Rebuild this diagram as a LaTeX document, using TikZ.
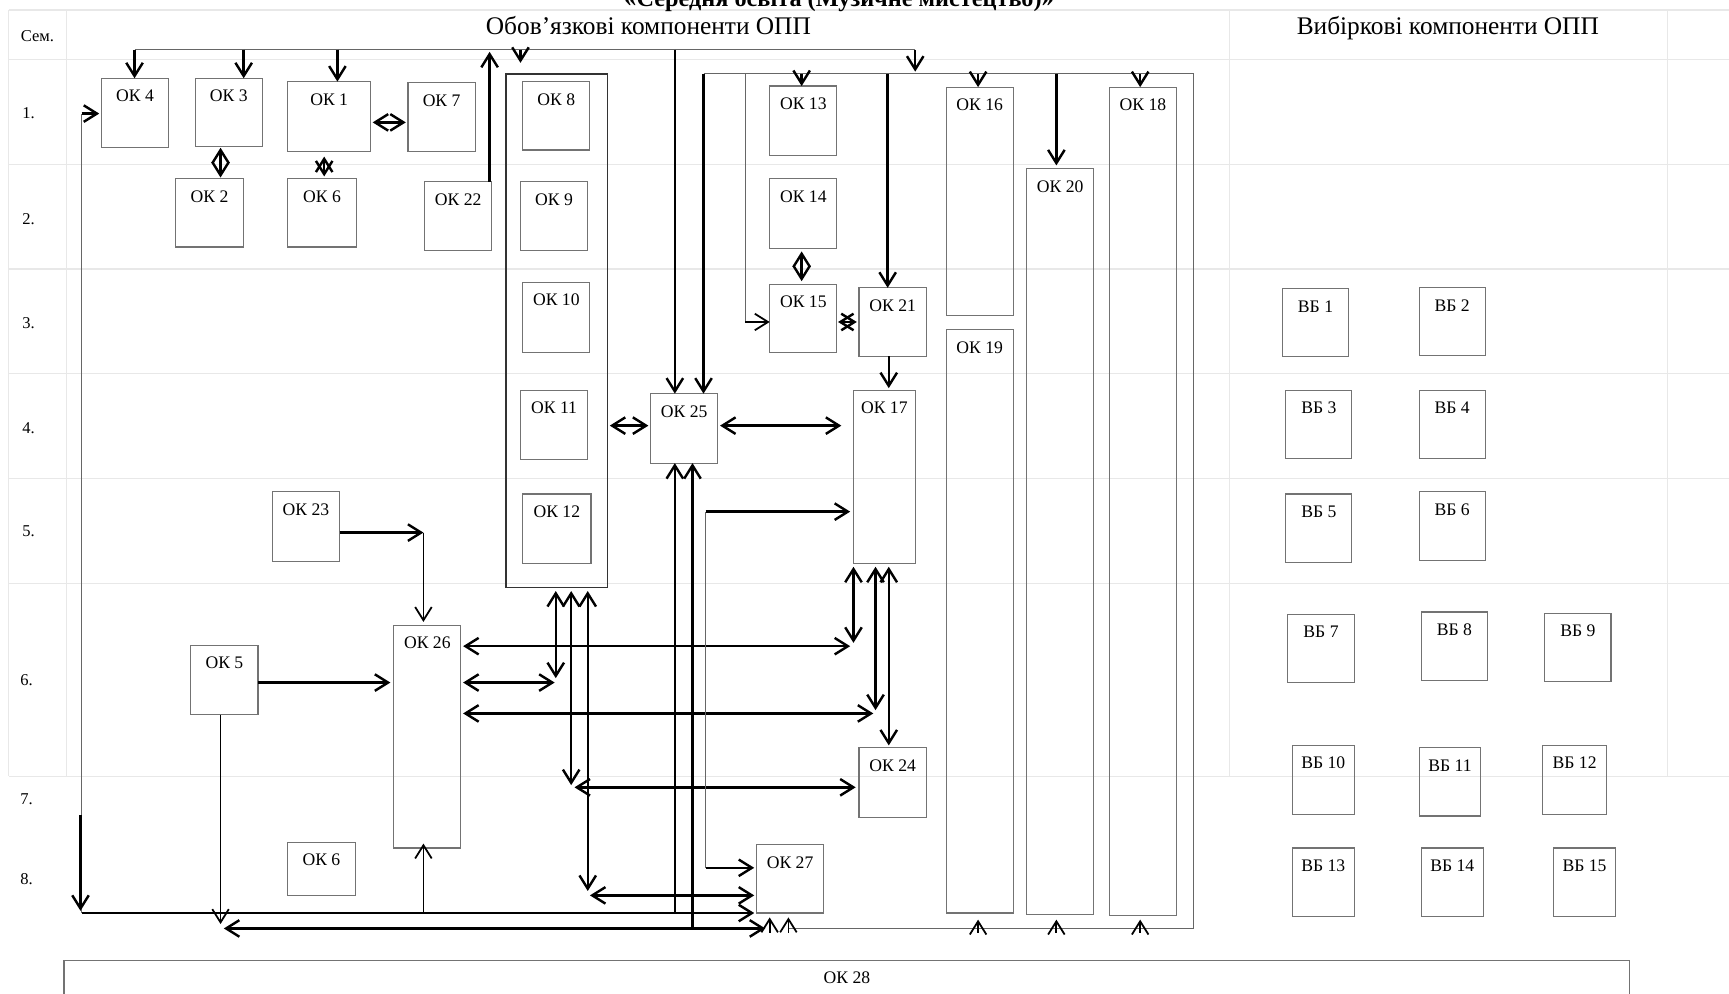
\documentclass[tikz,border=0pt]{standalone}
\usepackage{fontspec}
\setmainfont{Liberation Serif}
\usetikzlibrary{arrows.meta}
\newcommand\labfont{\fontsize{16}{18}\selectfont}
\newcommand\bx[6]{\node[box, minimum width=#4pt-#2pt, minimum height=#5pt-#3pt, label={[lbl]north:#6}] (#1) at (#2,#3) {};}
\begin{document}
\begin{tikzpicture}[x=1pt,y=-1pt,
 box/.style={draw=black!55, line width=1pt, inner sep=0pt, outer sep=0pt, anchor=north west},
 lbl/.style={anchor=north, inner sep=0pt, yshift=-10.5pt, font=\labfont},
 gridline/.style={draw=black!9, line width=1.2pt},
 thk/.style={line width=2.2pt, draw=black},
 med/.style={line width=1.6pt, draw=black},
 thn/.style={line width=0.9pt, draw=black!60},
 >={Straight Barb[length=12pt,width=15pt]},
]
\useasboundingbox (0,0) rectangle (1568,901);
% grid
\foreach \yy in {9,54,149,244,339,434,529,704} {\draw[gridline] (8,\yy) -- (1568,\yy);}
\foreach \xx in {8,60,1115,1512} {\draw[gridline] (\xx,9) -- (\xx,704);}
% headings
\node[anchor=base, inner sep=0pt, font=\bfseries\fontsize{22}{24}\selectfont] (title) at (761,5.5) {«Середня освіта (Музичне мистецтво)»};
\node[anchor=base, inner sep=0pt, font=\fontsize{23}{25}\selectfont] (h1) at (588,31.5) {Обов’язкові компоненти ОПП};
\node[anchor=base, inner sep=0pt, font=\fontsize{23}{25}\selectfont] (h2) at (1313,31.5) {Вибіркові компоненти ОПП};
\node[anchor=base, inner sep=0pt, font=\fontsize{15}{17}\selectfont] (sem) at (34,37.5) {Сем.};
\foreach \nn/\xx/\yy in {1/26/103,2/26/199,3/26/293,4/26/388,5/26/482,6/24/617,7/24/725,8/24/797}
  {\node[inner sep=0pt, font=\fontsize{15}{17}\selectfont] (row\nn) at (\xx,\yy) {\nn.};}
% boxes
\bx{ok4}{92}{71}{153}{134}{ОК 4}
\bx{ok3}{177}{71}{238}{133}{ОК 3}
\bx{ok1}{261}{74}{336}{137}{ОК 1}
\bx{ok7}{370}{75}{431}{137}{ОК 7}
\bx{ok2}{159}{162}{221}{224}{ОК 2}
\bx{ok6}{261}{162}{323}{224}{ОК 6}
\bx{ok22}{385}{165}{446}{227}{ОК 22}
\node[box, draw=black!80, line width=1.2pt, minimum width=92pt, minimum height=466pt] (cont) at (459,67) {};
\bx{ok8}{474}{74}{535}{136}{ОК 8}
\bx{ok9}{472}{165}{533}{227}{ОК 9}
\bx{ok10}{474}{256}{535}{320}{ОК 10}
\bx{ok11}{472}{354}{533}{417}{ОК 11}
\bx{ok12}{474}{448}{536}{511}{ОК 12}
\bx{ok13}{698}{78}{759}{141}{ОК 13}
\bx{ok14}{698}{162}{759}{225}{ОК 14}
\bx{ok15}{698}{258}{759}{320}{ОК 15}
\bx{ok21}{779}{261}{840}{323}{ОК 21}
\bx{ok16}{858}{79}{919}{286}{ОК 16}
\bx{ok19}{858}{299}{919}{828}{ОК 19}
\bx{ok20}{931}{153}{992}{829}{ОК 20}
\bx{ok18}{1006}{79}{1067}{830}{ОК 18}
\bx{ok25}{590}{357}{651}{420}{ОК 25}
\bx{ok17}{774}{354}{830}{511}{ОК 17}
\bx{ok23}{247}{446}{308}{509}{ОК 23}
\bx{ok26}{357}{567}{418}{769}{ОК 26}
\bx{ok5}{173}{585}{234}{648}{ОК 5}
\bx{ok24}{779}{678}{840}{741}{ОК 24}
\bx{ok6b}{261}{764}{322}{812}{ОК 6}
\bx{ok27}{686}{766}{747}{828}{ОК 27}
\bx{ok28}{58}{871}{1478}{940}{ОК 28}
\bx{vb1}{1163}{262}{1223}{323}{ВБ 1}
\bx{vb2}{1287}{261}{1347}{322}{ВБ 2}
\bx{vb3}{1166}{354}{1226}{416}{ВБ 3}
\bx{vb4}{1287}{354}{1347}{416}{ВБ 4}
\bx{vb5}{1166}{448}{1226}{510}{ВБ 5}
\bx{vb6}{1287}{446}{1347}{508}{ВБ 6}
\bx{vb7}{1168}{557}{1228}{619}{ВБ 7}
\bx{vb8}{1289}{555}{1349}{617}{ВБ 8}
\bx{vb9}{1401}{556}{1461}{618}{ВБ 9}
\bx{vb10}{1172}{676}{1228}{739}{ВБ 10}
\bx{vb11}{1287}{678}{1343}{740}{ВБ 11}
\bx{vb12}{1399}{676}{1457}{739}{ВБ 12}
\bx{vb13}{1172}{769}{1228}{831}{ВБ 13}
\bx{vb14}{1289}{769}{1345}{831}{ВБ 14}
\bx{vb15}{1409}{769}{1465}{831}{ВБ 15}
% guides and junctions
\coordinate (tbL) at (122,45);
\coordinate (tbR) at (830,45);
\coordinate (tb3) at (221,45);
\coordinate (tb1) at (306,45);
\coordinate (tb8) at (472,45);
\coordinate (tb8e) at (472,57);
\coordinate (tb22) at (444,47);
\coordinate (tb25) at (612,45);
\coordinate (tbRe) at (830,65);
\coordinate (rL) at (638,67);
\coordinate (rTR) at (1082,67);
\coordinate (rBR) at (1082,842);
\coordinate (rBL) at (715,842);
\coordinate (r15) at (676,67);
\coordinate (r15b) at (676,292);
\coordinate (r13) at (727,67);
\coordinate (r21) at (805,67);
\coordinate (r16) at (887,67);
\coordinate (r20) at (958,67);
\coordinate (r20e) at (958,150);
\coordinate (r18) at (1034,67);
\coordinate (x200) at (200,0);
\coordinate (x294) at (294,0);
\coordinate (x727) at (727,0);
\coordinate (x806) at (806,0);
\coordinate (y111) at (0,111);
\coordinate (y292) at (0,292);
\coordinate (y386) at (0,386);
\coordinate (bA612) at (612,828);
\coordinate (bB628) at (628,842);
\coordinate (c504) at (504,615);
\coordinate (c518) at (518,712);
\coordinate (c533) at (533,808);
\coordinate (h586) at (771,586);
\coordinate (h619) at (503,619);
\coordinate (h647) at (792,647);
\coordinate (v774) at (774,583);
\coordinate (v794) at (794,644);
\coordinate (h714) at (521,714);
\coordinate (h812) at (535,812);
\coordinate (g1) at (640,464);
\coordinate (g2) at (640,787);
\coordinate (bAL) at (74,828);
\coordinate (bBL) at (203,842);
\coordinate (bBR) at (694,842);
\coordinate (l4) at (74,103);
\coordinate (lA) at (73,739);
\coordinate (lAe) at (73,826);
\coordinate (k5e) at (200,838);
\coordinate (k26) at (384,828);
\coordinate (k23) at (384,483);
% top bus
\draw[thn] (tbL) -- (tbR);
\draw[thk,->] (tbL) -- (tbL |- ok4.north);
\draw[thk,->] (tb3) -- (tb3 |- ok3.north);
\draw[thk,->] (tb1) -- (tb1 |- ok1.north);
\draw[thk,->] (tb8) -- (tb8e);
\draw[thk,->] (tb22 |- ok22.north) -- (tb22);
\draw[thk,->] (tb25) -- (tb25 |- ok25.north);
\draw[thk,->] (tbR) -- (tbRe);
% right loop
\draw[thn] (rL) -- (rTR) -- (rBR) -- (rBL);
\draw[thk,->] (rL) -- (rL |- ok25.north);
\draw[thn] (r15) -- (r15b);
\draw[med,->] (r15b) -- (r15b -| ok15.west);
\draw[thk,->] (r13) -- (r13 |- ok13.north);
\draw[thk,->] (r21) -- (r21 |- ok21.north);
\draw[thk,->] (r16) -- (r16 |- ok16.north);
\draw[thk,->] (r20) -- (r20e);
\draw[thk,->] (r18) -- (r18 |- ok18.north);
% short links (diamond / cross shaped)
\draw[thk,<->,shorten <=1pt,shorten >=1pt] (x200 |- ok3.south) -- (x200 |- ok2.north);
\draw[thk,<->,shorten <=5pt,shorten >=2pt] (x294 |- ok1.south) -- (x294 |- ok6.north);
\draw[thk,<->,shorten <=2pt,shorten >=2pt] (ok1.east |- y111) -- (ok7.west |- y111);
\draw[thk,<->,shorten <=3pt,shorten >=3pt] (x727 |- ok14.south) -- (x727 |- ok15.north);
\draw[thk,<->,shorten <=1pt,shorten >=2pt] (ok15.east |- y292) -- (ok21.west |- y292);
\draw[thk,->,shorten >=2pt] (x806 |- ok21.south) -- (x806 |- ok17.north);
\draw[thk,<->,shorten <=2pt,shorten >=2pt] (cont.east |- y386) -- (ok25.west |- y386);
\draw[thk,<->,shorten <=2pt,shorten >=11pt] (ok25.east |- y386) -- (ok17.west |- y386);
% into OK 25 from below
\draw[thk,->] (bA612) -- (bA612 |- ok25.south);
\draw[thk,->] (bB628) -- (bB628 |- ok25.south);
% from container bottom
\draw[thk,<->,shorten <=3pt] (c504 |- cont.south) -- (c504);
\draw[thk,<->,shorten <=3pt] (c518 |- cont.south) -- (c518);
\draw[thk,<->,shorten <=3pt] (c533 |- cont.south) -- (c533);
% from OK 26
\draw[thk,<->,shorten <=2pt] (ok26.east |- h586) -- (h586);
\draw[thk,<->,shorten <=2pt] (ok26.east |- h619) -- (h619);
\draw[thk,<->,shorten <=2pt] (ok26.east |- h647) -- (h647);
% from OK 17 bottom
\draw[thk,<->,shorten <=3pt] (v774 |- ok17.south) -- (v774);
\draw[thk,<->,shorten <=3pt] (v794 |- ok17.south) -- (v794);
\draw[thk,<->,shorten <=3pt,shorten >=2pt] (x806 |- ok17.south) -- (x806 |- ok24.north);
\draw[thk,<->,shorten >=3pt] (h714) -- (h714 -| ok24.west);
\draw[thk,<->,shorten >=2pt] (h812) -- (h812 -| ok27.west);
% thin feeder to OK 17 and OK 27
\draw[thn] (g1) -- (g2);
\draw[thk,->,shorten >=3pt] (g1) -- (g1 -| ok17.west);
\draw[thk,->,shorten >=2pt] (g2) -- (g2 -| ok27.west);
% bottom buses
\draw[thk,->,shorten >=2pt] (bAL) -- (bAL -| ok27.west);
\draw[thk,<->] (bBL) -- (bBR);
\draw[thn] (bAL) -- (l4);
\draw[thk,->,shorten >=2pt] (l4) -- (l4 -| ok4.west);
\draw[thk,->] (lA) -- (lAe);
\draw[med,->] (x200 |- ok5.south) -- (k5e);
\draw[med,->,shorten >=-4pt] (k26) -- (k26 |- ok26.south);
\draw[thk,->] (ok23.east |- k23) -- (k23);
\draw[med,->,shorten >=3pt] (k23) -- (k23 |- ok26.north);
\draw[thk,->,shorten >=3pt] (ok5.east |- h619) -- (ok26.west |- h619);
% up arrows on the lower line
\foreach \xx/\tp in {698/832,715/832,887/834,958/834,1034/834} {\draw[med,->] (\xx,846) -- (\xx,\tp);}
\end{tikzpicture}
\end{document}
